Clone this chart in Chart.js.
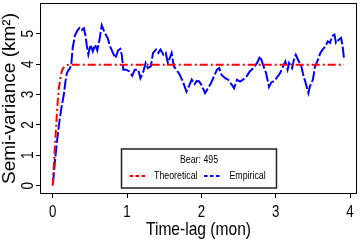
<!DOCTYPE html>
<html>
<head>
<meta charset="utf-8">
<script src="https://cdn.jsdelivr.net/npm/chart.js@4/dist/chart.umd.min.js"></script>
<style>
  html, body { margin: 0; padding: 0; background: #fff; }
  canvas { display: block; }
</style>
</head>
<body>
<canvas id="chart" width="360" height="249"></canvas>
<script>
// theoretical semi-variance curve
const theoLag = [0, 0.01, 0.02, 0.03, 0.04, 0.05, 0.06, 0.07, 0.08, 0.10, 0.12, 0.14, 0.17, 0.20, 0.25, 0.5, 1, 2, 3, 3.92];
const theoVar = [0, 0.45, 0.9, 1.3, 1.7, 2.1, 2.5, 2.85, 3.15, 3.5, 3.75, 3.87, 3.94, 3.97, 3.98, 3.98, 3.98, 3.98, 3.98, 3.98];

// empirical semi-variance
const empLag = [0.005, 0.03, 0.06, 0.09, 0.12, 0.15, 0.17, 0.19, 0.21, 0.23, 0.25, 0.27, 0.30, 0.33, 0.36, 0.39, 0.42, 0.44, 0.46, 0.48,
  0.51, 0.54, 0.57, 0.60, 0.63, 0.66, 0.70, 0.74, 0.77, 0.81, 0.845, 0.88, 0.91, 0.93, 0.95, 0.99, 1.03, 1.07, 1.105, 1.15,
  1.18, 1.22, 1.25, 1.28, 1.32, 1.35, 1.39, 1.42, 1.45, 1.49, 1.52, 1.55, 1.60, 1.63, 1.68, 1.71, 1.75, 1.80, 1.84, 1.87,
  1.91, 1.94, 1.97, 2.00, 2.05, 2.09, 2.13, 2.17, 2.21, 2.24, 2.27, 2.32, 2.36, 2.41, 2.44, 2.48, 2.52, 2.56, 2.61, 2.65,
  2.70, 2.75, 2.79, 2.83, 2.87, 2.91, 2.94, 2.98, 3.01, 3.06, 3.10, 3.13, 3.16, 3.18, 3.22, 3.25, 3.27, 3.31, 3.34, 3.37,
  3.41, 3.44, 3.46, 3.50, 3.53, 3.56, 3.60, 3.63, 3.67, 3.70, 3.73, 3.76, 3.79, 3.81, 3.85, 3.88, 3.90, 3.92];
const empVar = [0.08, 0.8, 1.5, 2.1, 2.6, 3.0, 3.4, 3.7, 3.8, 3.85, 4.0, 4.55, 4.95, 5.1, 5.19, 5.12, 5.18, 4.95, 4.6, 4.32,
  4.64, 4.42, 4.64, 4.45, 4.81, 5.28, 5.03, 4.86, 4.6, 4.37, 4.2, 4.45, 4.5, 4.3, 3.82, 3.82, 3.76, 3.62, 3.82, 3.82,
  3.54, 3.76, 4.04, 3.87, 3.93, 4.37, 4.48, 4.37, 4.48, 4.31, 4.37, 4.04, 4.37, 3.93, 3.76, 3.65, 3.43, 3.10, 3.32, 3.49,
  3.35, 3.45, 3.43, 3.32, 3.05, 3.21, 3.38, 3.60, 3.82, 3.87, 3.65, 3.54, 3.49, 3.32, 3.21, 3.49, 3.43, 3.49, 3.60, 3.76,
  3.87, 4.04, 4.26, 3.98, 3.71, 3.25, 3.40, 3.45, 3.54, 3.71, 3.93, 4.09, 3.82, 4.04, 3.87, 4.20, 4.31, 4.09, 3.98, 3.65,
  3.32, 3.05, 3.27, 3.49, 3.93, 4.09, 4.37, 4.48, 4.59, 4.75, 4.70, 4.92, 4.97, 4.70, 4.81, 4.86, 4.59, 4.15];

const xTicks = [0, 1, 2, 3, 4];
const yTicks = [0, 1, 2, 3, 4, 5];
const xTitle = 'Time-lag (mon)';
const yTitle = 'Semi-variance (km²)';
const legendTitle = 'Bear: 495';

const FONT = '"Liberation Sans", Arial, sans-serif';

const toPoints = (xs, ys) => xs.map((x, i) => ({ x: x, y: ys[i] }));

// the reference text is a narrow helvetica, so squeeze it sideways
function narrowText(ctx, text, x, y, size, sx, align) {
  ctx.save();
  ctx.font = size + 'px ' + FONT;
  ctx.textAlign = align || 'center';
  ctx.textBaseline = 'middle';
  ctx.translate(x, y);
  ctx.scale(sx, 1);
  ctx.fillText(text, 0, 0);
  ctx.restore();
}

// box round the plot, tick labels, titles and the legend, R style
const framePlugin = {
  id: 'frame',
  afterDraw(chart) {
    const ctx = chart.ctx;
    const ca = chart.chartArea;
    ctx.save();
    ctx.strokeStyle = '#000';
    ctx.lineWidth = 1;
    ctx.strokeRect(ca.left - 0.5, ca.top - 0.5, ca.right - ca.left + 1, ca.bottom - ca.top + 1);
    ctx.fillStyle = '#000';

    const xs = chart.scales.x;
    xs.ticks.forEach(t => narrowText(ctx, String(t.value), xs.getPixelForValue(t.value), 212, 17, 0.78));
    narrowText(ctx, xTitle, (ca.left + ca.right) / 2, 230, 19, 0.82);

    const ys = chart.scales.y;
    ctx.font = '16px ' + FONT;
    ctx.textAlign = 'center';
    ctx.textBaseline = 'middle';
    ys.ticks.forEach(t => {
      ctx.save();
      ctx.translate(29, ys.getPixelForValue(t.value));
      ctx.rotate(-Math.PI / 2);
      ctx.scale(0.85, 1);
      ctx.fillText(String(t.value), 0, 0);
      ctx.restore();
    });
    ctx.save();
    ctx.font = '19px ' + FONT;
    ctx.translate(10, (ca.top + ca.bottom) / 2);
    ctx.rotate(-Math.PI / 2);
    ctx.fillText(yTitle, 0, 0);
    ctx.restore();

    // legend
    ctx.fillStyle = '#fff';
    ctx.fillRect(121.5, 149, 155, 39);
    ctx.strokeStyle = '#222';
    ctx.lineWidth = 1.5;
    ctx.strokeRect(121.5, 149, 155, 39);
    ctx.fillStyle = '#000';
    narrowText(ctx, legendTitle, 199, 160, 11, 0.8);

    const items = [
      { ds: chart.data.datasets[0], x0: 129.5, x1: 145, tx: 154 },
      { ds: chart.data.datasets[1], x0: 204, x1: 220, tx: 229.5 }
    ];
    items.forEach(it => {
      ctx.strokeStyle = it.ds.borderColor;
      ctx.lineWidth = 2;
      ctx.setLineDash([3.5, 2.5]);
      ctx.beginPath();
      ctx.moveTo(it.x0, 176);
      ctx.lineTo(it.x1, 176);
      ctx.stroke();
      ctx.setLineDash([]);
      narrowText(ctx, it.ds.label, it.tx, 176, 11, 0.8, 'left');
    });
    ctx.restore();
  }
};

new Chart(document.getElementById('chart'), {
  type: 'scatter',
  data: {
    datasets: [
      {
        label: 'Theoretical',
        data: toPoints(theoLag, theoVar),
        showLine: true,
        borderColor: '#ff0000',
        borderWidth: 2,
        borderDash: [8, 3, 2, 3],
        pointRadius: 0,
        tension: 0
      },
      {
        label: 'Empirical',
        data: toPoints(empLag, empVar),
        showLine: true,
        borderColor: '#0000ff',
        borderWidth: 2,
        borderDash: [11, 2.5],
        pointRadius: 0,
        tension: 0
      }
    ]
  },
  options: {
    responsive: false,
    animation: false,
    devicePixelRatio: 1,
    layout: { padding: { top: 4, right: 4, left: 0, bottom: 0 } },
    plugins: { legend: { display: false }, tooltip: { enabled: false } },
    scales: {
      x: {
        type: 'linear',
        min: -0.157,
        max: 4.08,
        afterBuildTicks: s => { s.ticks = xTicks.map(v => ({ value: v })); },
        afterFit: s => { s.height = 56; },
        border: { display: false },
        grid: { drawOnChartArea: false, drawTicks: true, tickLength: 5, color: '#000' },
        ticks: { display: false }
      },
      y: {
        min: -0.24,
        max: 5.98,
        afterBuildTicks: s => { s.ticks = yTicks.map(v => ({ value: v })); },
        afterFit: s => { s.width = 41; },
        border: { display: false },
        grid: { drawOnChartArea: false, drawTicks: true, tickLength: 5, color: '#000' },
        ticks: { display: false }
      }
    }
  },
  plugins: [framePlugin]
});
</script>
</body>
</html>
